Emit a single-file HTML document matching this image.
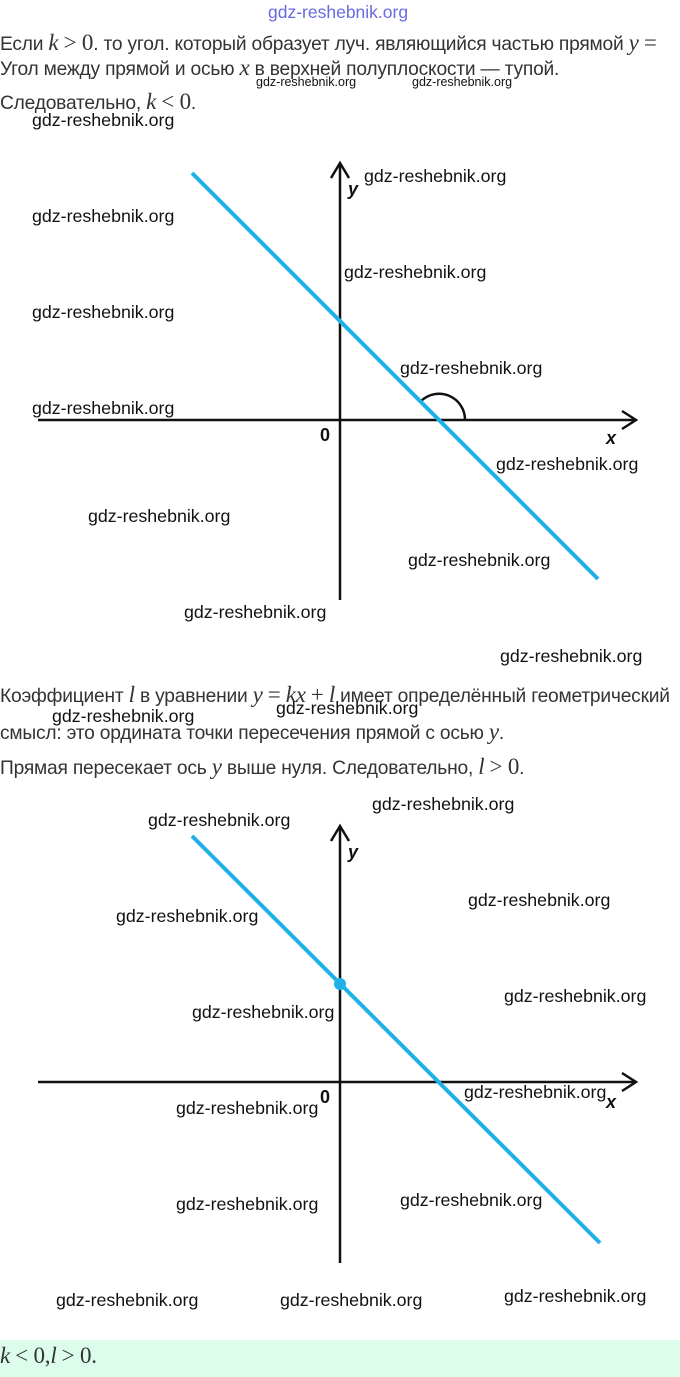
<!DOCTYPE html>
<html><head><meta charset="utf-8"><style>
body{margin:0;background:#fff;width:680px;height:1377px;overflow:hidden;position:relative;font-family:"Liberation Sans","DejaVu Sans",sans-serif}
.t{position:absolute;left:0;font-size:19.2px;color:#333;white-space:nowrap;letter-spacing:-0.2px}
.m{font-family:"Liberation Serif",serif;font-style:italic;font-size:23px}
.n{font-family:"Liberation Serif",serif;font-size:23px}
.w{position:absolute;font-size:17.8px;color:#111;white-space:nowrap}
.ws{position:absolute;font-size:12.5px;color:#111;white-space:nowrap}
</style></head><body>
<div style="position:absolute;left:268px;top:2px;font-size:17.5px;color:#6a6ae0">gdz-reshebnik.org</div>
<div class="t" style="top:30px">Если <span class="m">k</span> <span class="n">&gt; 0</span>. то угол. который образует луч. являющийся частью прямой <span class="m">y</span> <span class="n">=</span></div>
<div class="t" style="top:55px">Угол между прямой и осью <span class="m">x</span> в верхней полуплоскости — тупой.</div>
<div class="ws" style="left:256px;top:75px">gdz-reshebnik.org</div>
<div class="ws" style="left:412px;top:75px">gdz-reshebnik.org</div>
<div class="t" style="top:89px">Следовательно, <span class="m">k</span> <span class="n">&lt; 0</span>.</div>

<div class="t" style="top:682px">Коэффициент <span class="m">l</span> в уравнении <span class="m">y</span> <span class="n">=</span> <span class="m">kx</span> <span class="n">+</span> <span class="m">l</span> имеет определённый геометрический</div>
<div class="t" style="top:719px">смысл: это ордината точки пересечения прямой с осью <span class="m">y</span>.</div>
<div class="t" style="top:754px">Прямая пересекает ось <span class="m">y</span> выше нуля. Следовательно, <span class="m">l</span> <span class="n">&gt; 0</span>.</div>

<svg style="position:absolute;left:0;top:0" width="680" height="1377">
<g stroke="#111" stroke-width="2.5" fill="none">
<line x1="340" y1="163" x2="340" y2="600"/><polyline points="331,178 340,163 349,178"/>
<line x1="38" y1="420" x2="636" y2="420"/><polyline points="622,411 636,420 622,429"/>
<path d="M421 401 A26 26 0 0 1 465 420"/>
<line x1="340" y1="826" x2="340" y2="1263"/><polyline points="331,841 340,826 349,841"/>
<line x1="38" y1="1082" x2="636" y2="1082"/><polyline points="622,1073 636,1082 622,1091"/>
</g>
<g stroke="#1eb0e6" stroke-width="4">
<line x1="192" y1="173" x2="598" y2="579"/>
<line x1="192" y1="836" x2="600" y2="1243"/>
</g>
<circle cx="340" cy="984" r="6" fill="#1eb0e6"/>
<g font-family="Liberation Sans,sans-serif" font-weight="bold" font-size="18" fill="#111">
<text x="348" y="195" font-style="italic">y</text><text x="606" y="444" font-style="italic">x</text><text x="320" y="441">0</text>
<text x="348" y="858" font-style="italic">y</text><text x="606" y="1108" font-style="italic">x</text><text x="320" y="1103">0</text>
</g>
</svg>

<div class="w" style="left:32px;top:110px">gdz-reshebnik.org</div>
<div class="w" style="left:364px;top:166px">gdz-reshebnik.org</div>
<div class="w" style="left:32px;top:206px">gdz-reshebnik.org</div>
<div class="w" style="left:344px;top:262px">gdz-reshebnik.org</div>
<div class="w" style="left:32px;top:302px">gdz-reshebnik.org</div>
<div class="w" style="left:400px;top:358px">gdz-reshebnik.org</div>
<div class="w" style="left:32px;top:398px">gdz-reshebnik.org</div>
<div class="w" style="left:496px;top:454px">gdz-reshebnik.org</div>
<div class="w" style="left:88px;top:506px">gdz-reshebnik.org</div>
<div class="w" style="left:408px;top:550px">gdz-reshebnik.org</div>
<div class="w" style="left:184px;top:602px">gdz-reshebnik.org</div>
<div class="w" style="left:500px;top:646px">gdz-reshebnik.org</div>
<div class="w" style="left:52px;top:706px">gdz-reshebnik.org</div>
<div class="w" style="left:276px;top:698px">gdz-reshebnik.org</div>
<div class="w" style="left:372px;top:794px">gdz-reshebnik.org</div>
<div class="w" style="left:148px;top:810px">gdz-reshebnik.org</div>
<div class="w" style="left:468px;top:890px">gdz-reshebnik.org</div>
<div class="w" style="left:116px;top:906px">gdz-reshebnik.org</div>
<div class="w" style="left:504px;top:986px">gdz-reshebnik.org</div>
<div class="w" style="left:192px;top:1002px">gdz-reshebnik.org</div>
<div class="w" style="left:464px;top:1082px">gdz-reshebnik.org</div>
<div class="w" style="left:176px;top:1098px">gdz-reshebnik.org</div>
<div class="w" style="left:176px;top:1194px">gdz-reshebnik.org</div>
<div class="w" style="left:400px;top:1190px">gdz-reshebnik.org</div>
<div class="w" style="left:56px;top:1290px">gdz-reshebnik.org</div>
<div class="w" style="left:280px;top:1290px">gdz-reshebnik.org</div>
<div class="w" style="left:504px;top:1286px">gdz-reshebnik.org</div>

<div style="position:absolute;left:0;top:1340px;width:680px;height:37px;background:#dcfcec"></div>
<div class="t" style="top:1343px"><span class="m">k</span> <span class="n">&lt; 0,</span><span class="m">l</span> <span class="n">&gt; 0.</span></div>
</body></html>
